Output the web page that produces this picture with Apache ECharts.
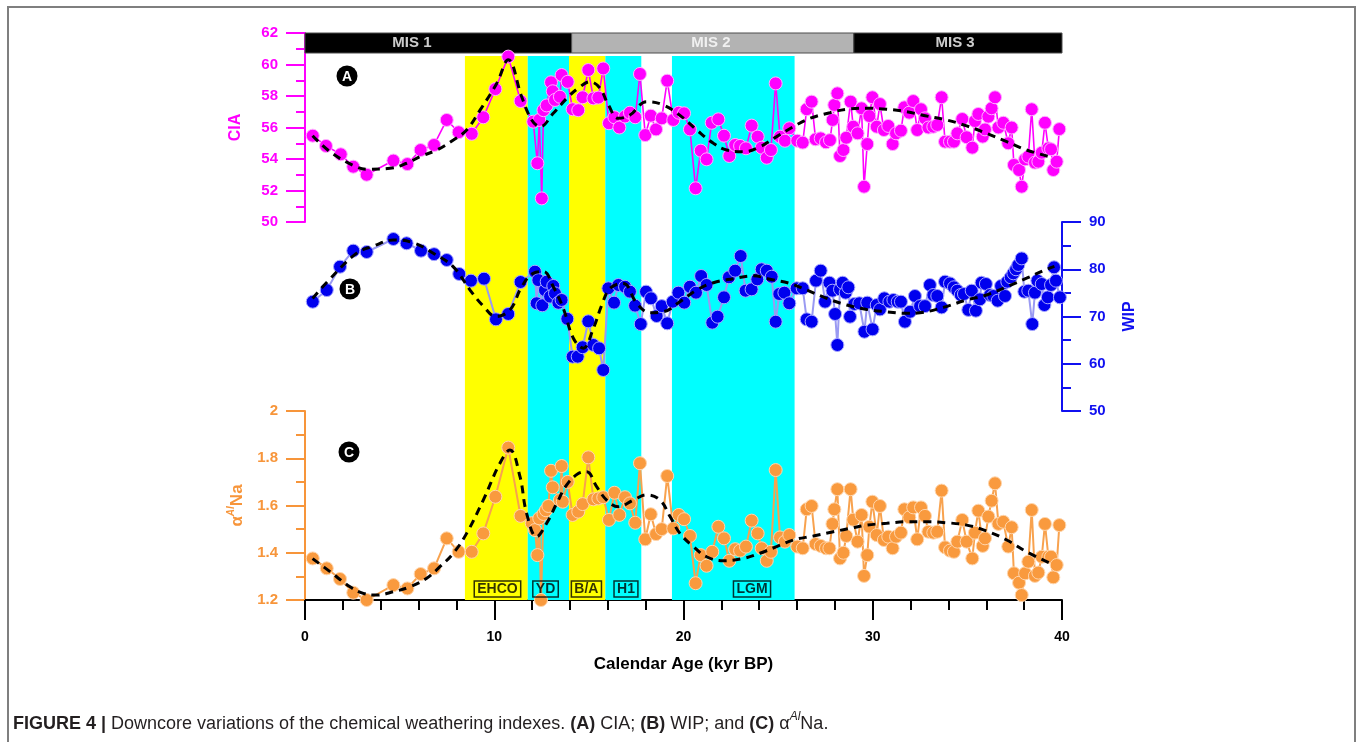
<!DOCTYPE html>
<html><head><meta charset="utf-8">
<script src="https://cdn.jsdelivr.net/npm/echarts@6/dist/echarts.min.js"></script>
<style>html,body{margin:0;padding:0;background:#fff}#c{width:1360px;height:742px}</style>
</head><body><div id="c"></div>
<script>
// ---------- DATA ----------
const ciaAge=[0.41,1.11,1.89,2.55,3.26,4.67,5.41,6.11,6.82,7.49,8.12,8.81,9.42,10.06,10.74,11.39,12.06,12.28,12.38,12.51,12.6,12.77,13.0,13.09,13.21,13.47,13.56,13.88,14.14,14.44,14.67,14.97,15.24,15.5,15.76,16.06,16.35,16.61,16.91,17.17,17.45,17.7,17.98,18.27,18.55,18.85,19.14,19.46,19.75,20.03,20.34,20.64,20.91,21.22,21.49,21.84,22.14,22.42,22.73,22.99,23.3,23.6,23.92,24.13,24.4,24.62,24.87,25.1,25.36,25.59,26.01,26.3,26.51,26.77,26.98,27.25,27.53,27.74,27.88,27.97,28.13,28.27,28.45,28.6,28.83,28.97,29.2,29.41,29.54,29.71,29.82,29.98,30.21,30.38,30.59,30.82,31.05,31.23,31.49,31.67,31.93,32.14,32.35,32.55,32.76,32.94,33.2,33.41,33.64,33.82,34.08,34.29,34.47,34.73,34.96,35.26,35.4,35.58,35.81,35.93,36.11,36.28,36.46,36.64,36.9,37.16,37.34,37.46,37.73,37.87,38.05,38.22,38.4,38.57,38.75,38.93,39.1,39.28,39.42,39.54,39.72,39.86];
const ciaVal=[55.48,54.83,54.30,53.51,53.0,53.9,53.68,54.57,54.89,56.48,55.7,55.6,56.65,58.44,60.5,57.68,56.37,53.73,56.48,51.5,57.1,57.4,58.87,58.3,57.75,57.95,59.33,58.9,57.16,57.1,57.92,59.65,57.85,57.9,59.75,56.27,56.65,56.0,56.7,56.94,56.65,59.4,55.52,56.75,55.88,56.58,58.97,56.48,56.94,56.9,55.88,52.14,54.53,53.98,56.3,56.52,55.48,54.19,54.89,54.83,54.68,56.12,55.42,54.72,54.08,54.57,58.8,55.42,55.16,55.95,55.16,55.04,57.16,57.64,55.25,55.31,55.06,55.2,56.48,57.43,58.17,54.19,54.57,55.35,57.64,56.05,55.63,57.22,52.24,54.95,56.73,57.92,56.05,57.49,55.84,56.1,54.95,55.63,55.8,57.28,56.94,57.68,55.84,57.16,56.58,56.0,56.05,56.16,57.92,55.1,55.1,55.1,55.63,56.54,55.38,54.72,56.41,56.86,55.42,55.88,56.69,57.22,57.92,56.0,56.3,55.0,56.0,53.62,53.3,52.24,53.98,54.15,57.16,53.77,53.83,54.4,56.3,54.68,54.62,53.3,53.83,55.9];
const ciaTrendAge=[0.4,1.32,2.54,3.26,4.49,5.37,6.08,6.96,7.84,8.54,9.25,10.13,10.74,11.45,11.98,12.42,13.12,13.83,14.44,15.06,15.59,16.03,16.56,17.17,18.05,18.93,19.9,20.7,21.58,22.28,23.16,24.04,24.92,25.8,26.68,27.74,28.62,29.68,30.74,31.79,32.85,33.9,34.96,36.02,37.08,38.13,39.5];
const ciaTrendVal=[55.48,54.46,53.6,53.35,53.41,53.73,54.15,54.57,55.2,55.84,57.1,58.8,60.3,57.95,56.48,56.05,56.9,57.85,58.5,58.9,58.49,57.43,56.58,56.79,57.64,57.43,56.69,55.84,55.0,54.57,54.46,54.78,55.42,56.05,56.58,56.94,57.16,57.22,57.16,57.0,56.73,56.48,56.1,55.63,55.1,54.57,54.1];

const wipAge=[0.41,1.15,1.85,2.55,3.26,4.67,5.37,6.13,6.82,7.49,8.15,8.77,9.46,10.09,10.74,11.39,12.15,12.24,12.33,12.54,12.68,12.77,12.95,13.12,13.21,13.39,13.56,13.86,14.14,14.41,14.67,14.97,15.24,15.54,15.76,16.03,16.33,16.56,16.91,17.17,17.44,17.74,18.02,18.28,18.58,18.85,19.14,19.43,19.73,20.04,20.34,20.66,20.93,21.22,21.52,21.8,22.14,22.4,22.73,23.02,23.28,23.6,23.9,24.13,24.4,24.66,24.87,25.06,25.33,25.59,25.98,26.3,26.51,26.77,27.0,27.25,27.48,27.71,27.87,28.01,28.13,28.27,28.41,28.57,28.71,28.8,29.03,29.29,29.56,29.71,29.99,30.21,30.38,30.61,30.88,31.09,31.32,31.49,31.7,31.97,32.23,32.5,32.76,33.02,33.2,33.41,33.64,33.82,34.08,34.29,34.47,34.65,34.82,35.05,35.23,35.45,35.66,35.75,35.98,36.2,36.37,36.6,36.78,36.99,37.11,37.29,37.43,37.57,37.69,37.87,38.01,38.22,38.43,38.57,38.7,38.93,39.07,39.25,39.42,39.58,39.68,39.89];
const wipVal=[73.13,75.6,80.54,83.93,83.65,86.4,85.5,83.93,83.2,81.96,79.0,77.58,78.0,69.4,70.53,77.3,79.48,72.8,77.7,72.37,75.6,77.37,74.2,76.46,74.9,72.9,73.5,69.5,61.5,61.5,63.5,68.98,63.97,63.27,58.68,75.97,72.93,76.67,76.3,75.25,72.3,68.4,75.25,73.85,70.1,72.2,68.56,73.13,75.04,72.93,76.3,75.04,78.57,76.67,68.69,69.96,74.06,78.3,79.7,82.8,75.46,75.75,77.87,79.99,79.7,78.42,68.9,74.76,75.04,72.8,75.97,75.97,69.4,68.9,77.58,79.7,73.13,77.15,75.46,70.53,63.97,75.75,77.15,75.04,76.18,69.96,72.65,72.8,66.78,72.93,67.29,72.43,71.5,73.85,73.13,73.5,73.13,73.13,68.9,71.0,74.34,72.2,72.2,76.67,74.55,74.34,71.93,77.37,77.0,76.18,75.46,74.55,74.76,71.4,75.46,71.23,73.64,77.15,76.88,74.55,74.34,73.34,76.46,74.34,77.37,78.3,79.14,79.99,80.9,82.3,75.25,75.46,68.4,75.04,77.58,76.88,72.43,74.06,76.67,80.41,77.58,74.06];
const wipTrendAge=[0.4,1.23,2.73,3.61,4.67,5.72,6.78,7.84,8.72,9.42,10.09,10.83,11.45,12.06,12.6,13.12,13.65,14.18,14.7,15.24,15.68,16.12,16.82,17.53,18.23,18.93,19.81,20.7,21.58,22.63,23.69,24.57,25.63,26.51,27.56,28.62,29.68,30.74,31.79,32.5,33.73,34.96,36.02,37.08,38.13,39.19,39.6];
const wipTrendVal=[73.8,77.58,83.4,84.9,86.2,85.6,83.4,80.5,75.6,72.2,70.0,71.4,76.3,79.14,79.5,76.3,71.7,65.4,63.3,67.5,72.4,75.97,77.0,72.8,70.8,71.0,73.13,75.6,77.15,78.0,78.6,77.9,77.0,75.6,73.85,72.43,71.5,71.0,70.67,70.8,71.93,73.5,74.55,76.3,78.1,80.0,80.6];

const alnaAge=[0.41,1.15,1.85,2.55,3.26,4.67,5.41,6.11,6.82,7.49,8.12,8.81,9.42,10.06,10.74,11.39,11.98,12.15,12.28,12.38,12.47,12.6,12.73,12.86,13.0,13.09,13.47,13.56,13.62,13.88,14.14,14.44,14.67,14.97,15.24,15.5,15.76,16.06,16.35,16.61,16.91,17.17,17.45,17.7,17.98,18.27,18.55,18.85,19.14,19.46,19.75,20.03,20.34,20.64,20.91,21.22,21.52,21.84,22.14,22.42,22.73,22.99,23.3,23.6,23.92,24.13,24.4,24.62,24.87,25.1,25.36,25.59,26.01,26.3,26.51,26.77,26.98,27.25,27.53,27.71,27.87,27.97,28.13,28.27,28.45,28.6,28.83,28.97,29.2,29.41,29.54,29.71,29.82,29.98,30.21,30.38,30.59,30.82,31.05,31.23,31.49,31.67,31.93,32.14,32.35,32.55,32.76,32.94,33.2,33.41,33.64,33.82,34.08,34.29,34.47,34.73,34.96,35.26,35.4,35.58,35.81,35.93,36.11,36.28,36.46,36.64,36.9,37.16,37.34,37.46,37.73,37.87,38.05,38.22,38.4,38.57,38.75,38.93,39.1,39.28,39.42,39.54,39.72,39.86];
const alnaVal=[1.376,1.334,1.289,1.231,1.2,1.263,1.249,1.31,1.334,1.461,1.404,1.404,1.482,1.637,1.845,1.556,1.525,1.496,1.39,1.546,1.2,1.564,1.58,1.598,1.747,1.677,1.623,1.767,1.616,1.70,1.56,1.574,1.606,1.804,1.626,1.63,1.635,1.539,1.654,1.56,1.635,1.609,1.527,1.779,1.457,1.563,1.479,1.5,1.725,1.503,1.56,1.542,1.471,1.271,1.39,1.345,1.404,1.51,1.461,1.366,1.415,1.409,1.426,1.536,1.482,1.419,1.366,1.404,1.75,1.465,1.447,1.475,1.426,1.419,1.584,1.598,1.437,1.429,1.419,1.419,1.522,1.584,1.669,1.376,1.4,1.471,1.669,1.54,1.447,1.56,1.302,1.39,1.51,1.616,1.475,1.598,1.454,1.468,1.419,1.468,1.485,1.584,1.55,1.592,1.457,1.592,1.556,1.489,1.485,1.489,1.663,1.423,1.409,1.404,1.447,1.539,1.447,1.376,1.485,1.578,1.429,1.461,1.553,1.62,1.694,1.522,1.531,1.426,1.508,1.313,1.273,1.221,1.313,1.362,1.581,1.302,1.316,1.383,1.522,1.383,1.383,1.296,1.348,1.517];
const alnaTrendAge=[0.4,1.32,2.38,3.08,3.79,4.67,5.55,6.43,7.13,7.84,8.54,9.42,10.3,10.83,11.36,11.71,12.24,12.77,13.3,13.83,14.44,14.88,15.41,15.94,16.56,17.35,18.05,18.76,19.29,19.81,20.52,21.22,22.1,23.16,24.04,24.92,25.8,26.86,27.92,28.97,29.68,30.74,31.79,32.85,33.9,34.96,36.02,37.08,38.13,39.4];
const alnaTrendVal=[1.375,1.32,1.256,1.228,1.221,1.235,1.256,1.292,1.341,1.398,1.482,1.623,1.779,1.835,1.722,1.567,1.468,1.525,1.609,1.687,1.735,1.743,1.68,1.623,1.595,1.623,1.645,1.623,1.553,1.482,1.426,1.383,1.366,1.376,1.398,1.426,1.454,1.471,1.489,1.506,1.517,1.525,1.531,1.531,1.527,1.517,1.492,1.454,1.404,1.355];

// climate event bands (kyr BP)
const bandStart=[8.45,11.77,13.95,15.87,19.39];
const bandEnd=[11.77,13.95,15.87,17.77,25.87];
const bandKind=['warm','cold','warm','cold','cold'];
const eventNames=['EHCO','YD','B/A','H1','LGM'];
const eventLabelAge=[10.17,12.71,14.87,16.96,23.62];

// marine isotope stages
const misStart=[0,14.09,29.0];
const misEnd=[14.09,29.0,40];
const misNames=['MIS 1','MIS 2','MIS 3'];
const misLabelAge=[5.65,21.45,34.35];

const xTicks=[0,10,20,30,40];

// ---------- CHART ----------
const FONT='Liberation Sans, Arial, sans-serif';
const MAG='#ff00ff', BLU='#0000ee', ORA='#f7953a';
const zip=(a,b)=>a.map((x,i)=>[x,b[i]]);
const chart=echarts.init(document.getElementById('c'));
const L=305, W=757;
const grids=[
  {left:L,width:W,top:33,height:189},
  {left:L,width:W,top:222,height:189},
  {left:L,width:W,top:411,height:189},
  {left:L,width:W,top:56,height:544},
  {left:L,width:W,top:33,height:20}
].map(g=>Object.assign(g,{containLabel:false,outerBoundsMode:'none'}));

const hiddenX=i=>({type:'value',gridIndex:i,min:0,max:40,show:false});
const yStyle=(color)=>({
  axisLine:{show:true,onZero:false,lineStyle:{color,width:2}},
  axisTick:{show:true,length:19,lineStyle:{color,width:2}},
  minorTick:{show:true,splitNumber:2,length:9,lineStyle:{color,width:2}},
  splitLine:{show:false},
  axisLabel:{color,fontFamily:FONT,fontWeight:'bold',fontSize:15,margin:27},
  nameTextStyle:{color,fontFamily:FONT,fontWeight:'bold',fontSize:16}
});

const option={
  animation:false,
  backgroundColor:'#fff',
  grid:grids,
  xAxis:[hiddenX(0),hiddenX(1),
    {type:'value',gridIndex:2,min:0,max:40,interval:10,
     axisLine:{onZero:false,lineStyle:{color:'#000',width:2}},
     axisTick:{length:20,lineStyle:{color:'#000',width:2}},
     minorTick:{show:true,splitNumber:5,length:10,lineStyle:{color:'#000',width:2}},
     splitLine:{show:false},
     axisLabel:{color:'#000',fontFamily:FONT,fontWeight:'bold',fontSize:14,margin:30,
       formatter:v=>xTicks.includes(v)?String(v):''},
     name:'Calendar Age (kyr BP)',nameLocation:'middle',nameGap:56,
     nameTextStyle:{color:'#000',fontFamily:FONT,fontWeight:'bold',fontSize:17}},
    hiddenX(3),hiddenX(4)],
  yAxis:[
    Object.assign({type:'value',gridIndex:0,min:50,max:62,interval:2,position:'left',
      name:'CIA',nameLocation:'middle',nameGap:61},yStyle(MAG)),
    Object.assign({type:'value',gridIndex:1,min:50,max:90,interval:10,position:'right',
      name:'WIP',nameLocation:'middle',nameGap:60},yStyle('#1010f0')),
    Object.assign(yStyle(ORA),{type:'value',gridIndex:2,min:1.2,max:2,interval:0.2,position:'left',
      name:'{a|α}{s|Al}{a|Na}',nameLocation:'middle',nameGap:58,
      nameTextStyle:{color:ORA,fontFamily:FONT,fontWeight:'bold',fontSize:16,
        rich:{a:{color:ORA,fontFamily:FONT,fontWeight:'bold',fontSize:17,lineHeight:20,verticalAlign:'bottom'},
              s:{color:ORA,fontFamily:FONT,fontWeight:'bold',fontStyle:'italic',fontSize:10,lineHeight:20,verticalAlign:'top'}}},
      axisLabel:{color:ORA,fontFamily:FONT,fontWeight:'bold',fontSize:15,margin:27,
        formatter:v=>(Math.abs(v-2)<1e-6?'2':v.toFixed(1))}}),
    {type:'value',gridIndex:3,min:0,max:1,show:false},
    {type:'value',gridIndex:4,min:0,max:1,show:false}
  ],
  series:[
    {type:'scatter',xAxisIndex:3,yAxisIndex:3,data:[],z:1,silent:true,
      markArea:{silent:true,data:bandStart.map((s,i)=>[
        {xAxis:s,itemStyle:{color:bandKind[i]==='warm'?'#ffff00':'#00ffff'}},
        {xAxis:bandEnd[i]}])}},
    {type:'scatter',xAxisIndex:4,yAxisIndex:4,data:[],z:8,silent:true,
      markArea:{silent:true,data:misStart.map((s,i)=>[
        {xAxis:s,itemStyle:{color:i===1?'#b3b3b3':'#000000',borderColor:'#4d4d4d',borderWidth:1}},
        {xAxis:misEnd[i]}])}},
    {type:'scatter',xAxisIndex:4,yAxisIndex:4,z:9,silent:true,symbolSize:0,
      data:misLabelAge.map((x,i)=>({value:[x,0.5],name:misNames[i]})),
      label:{show:true,position:'inside',formatter:p=>p.name,color:'#ffffff',
        fontFamily:FONT,fontWeight:'bold',fontSize:15}},
    // CIA
    {type:'line',xAxisIndex:0,yAxisIndex:0,z:5,data:zip(ciaAge,ciaVal),
      symbol:'circle',symbolSize:13,showAllSymbol:true,
      lineStyle:{color:MAG,width:1.6},itemStyle:{color:MAG,borderColor:'#ffb0ff',borderWidth:1}},
    {type:'line',xAxisIndex:0,yAxisIndex:0,z:6,data:zip(ciaTrendAge,ciaTrendVal),smooth:0.4,
      symbol:'none',lineStyle:{color:'#000',width:3,type:[8,6]}},
    // WIP
    {type:'line',xAxisIndex:1,yAxisIndex:1,z:5,data:zip(wipAge,wipVal),
      symbol:'circle',symbolSize:13,showAllSymbol:true,
      lineStyle:{color:'#9a9af2',width:2},itemStyle:{color:BLU,borderColor:'#a8a8ff',borderWidth:1}},
    {type:'line',xAxisIndex:1,yAxisIndex:1,z:6,data:zip(wipTrendAge,wipTrendVal),smooth:0.4,
      symbol:'none',lineStyle:{color:'#000',width:3,type:[8,6]}},
    // alpha Al/Na
    {type:'line',xAxisIndex:2,yAxisIndex:2,z:5,data:zip(alnaAge,alnaVal),
      symbol:'circle',symbolSize:13,showAllSymbol:true,
      lineStyle:{color:'#f8a24e',width:2},itemStyle:{color:'#f99a3e',borderColor:'#ffd6ad',borderWidth:1}},
    {type:'line',xAxisIndex:2,yAxisIndex:2,z:6,data:zip(alnaTrendAge,alnaTrendVal),smooth:0.4,
      symbol:'none',lineStyle:{color:'#000',width:3,type:[8,6]}},
    // event labels
    {type:'scatter',xAxisIndex:2,yAxisIndex:2,z:7,silent:true,symbolSize:0,
      data:eventLabelAge.map((x,i)=>({value:[x,1.247],name:eventNames[i]})),
      label:{show:true,position:'inside',formatter:p=>p.name,color:'#000',
        fontFamily:FONT,fontWeight:'bold',fontSize:14,borderColor:'#000',borderWidth:1.5,
        padding:[2,3,0,3]}}
  ],
  graphic:[
    {type:'rect',shape:{x:8,y:7,width:1347,height:760},style:{fill:'none',stroke:'#7f7f7f',lineWidth:2},silent:true},
    ...[['A',347,76],['B',350,289],['C',349,452]].map(([t,x,y])=>({type:'group',x,y,z:20,children:[
      {type:'circle',shape:{cx:0,cy:0,r:10.5},style:{fill:'#000'}},
      {type:'text',style:{text:t,x:0,y:1,align:'center',verticalAlign:'middle',fill:'#fff',
        font:'bold 14px '+FONT}}]})),
    {type:'text',left:13,top:711,z:20,style:{
      text:'{b|FIGURE 4 |}{n| Downcore variations of the chemical weathering indexes. }{b|(A)}{n| CIA; }{b|(B)}{n| WIP; and }{b|(C)}{n| α}{s|Al}{n|Na.}',
      rich:{
        b:{fontFamily:FONT,fontWeight:'bold',fontSize:18,fill:'#231f20',lineHeight:22,verticalAlign:'bottom'},
        n:{fontFamily:FONT,fontSize:18,fill:'#231f20',lineHeight:22,verticalAlign:'bottom'},
        s:{fontFamily:FONT,fontStyle:'italic',fontSize:12,fill:'#231f20',lineHeight:22,verticalAlign:'top'}
      }}}
  ]
};
chart.setOption(option);
</script></body></html>
